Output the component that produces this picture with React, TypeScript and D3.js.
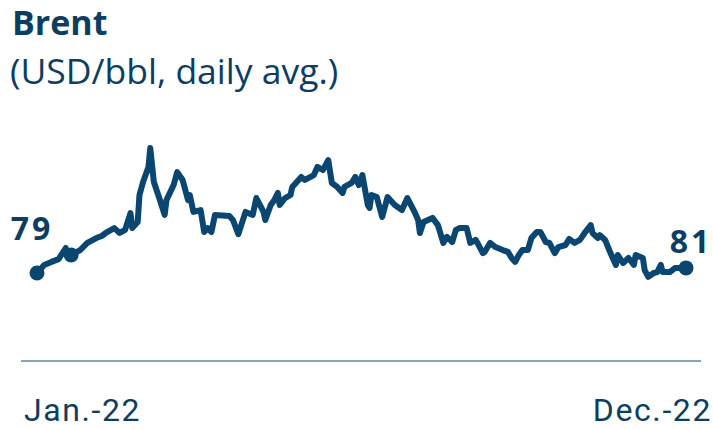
import React from "react";
import * as d3 from "d3";

// Day of year (0 = Jan 1, 2022) and Brent price (USD/bbl)
const days: number[] = [
  2, 6, 10, 14, 18, 19, 21, 26, 30, 35, 38, 41, 45, 48, 51, 54, 55, 58, 59, 61,
  64, 65, 67, 70, 73, 74, 78, 80, 83, 86, 87, 89, 93, 95, 97, 99, 101, 109, 111, 114,
  118, 122, 124, 128, 129, 132, 134, 136, 137, 140, 143, 144, 149, 151, 156, 158, 161, 162, 164, 166,
  169, 172, 173, 177, 179, 181, 183, 186, 187, 188, 191, 194, 197, 201, 205, 208, 212, 214, 215, 217,
  222, 225, 228, 230, 233, 235, 237, 241, 243, 246, 247, 250, 251, 254, 257, 261, 264, 266, 268, 270,
  272, 275, 277, 280, 282, 285, 287, 290, 292, 296, 298, 301, 304, 307, 310, 311, 314, 315, 318, 321,
  324, 325, 328, 331, 334, 335, 339, 340, 342, 345, 347, 349, 350, 354, 357, 363,
];
const prices: number[] = [
  79.0, 82.5, 83.8, 85.0, 89.8, 87.2, 86.8, 88.9, 92.0, 94.1, 95.0, 96.7, 98.4, 96.3, 97.6, 104.9, 98.4, 101.0, 112.7, 118.3,
  124.8, 133.0, 118.3, 111.4, 104.1, 110.5, 117.0, 122.6, 119.2, 110.5, 112.7, 105.4, 106.2, 96.7, 98.4, 96.7, 104.1, 103.6, 101.9, 95.8,
  105.4, 104.1, 111.4, 105.4, 101.9, 108.4, 110.5, 113.6, 108.4, 111.4, 112.7, 116.2, 120.5, 119.2, 121.3, 124.8, 123.5, 124.8, 127.8, 117.9,
  116.2, 113.6, 116.2, 117.9, 120.5, 117.0, 121.3, 108.4, 107.1, 112.7, 111.8, 103.2, 111.8, 108.4, 106.2, 111.4, 105.4, 101.9, 96.3, 101.0,
  102.8, 99.7, 92.0, 94.6, 92.4, 97.6, 98.4, 98.4, 92.0, 93.3, 92.0, 87.6, 88.1, 92.0, 90.2, 88.9, 88.1, 85.5, 83.8, 86.8,
  88.9, 88.9, 94.1, 96.7, 96.7, 92.4, 92.0, 87.6, 90.2, 91.1, 93.7, 92.0, 93.3, 96.7, 99.7, 96.3, 94.1, 95.4, 93.3, 87.6,
  82.5, 86.8, 83.3, 85.5, 82.5, 86.8, 85.5, 80.3, 77.3, 79.0, 79.4, 82.5, 79.4, 79.4, 81.2, 81.2,
];
// Indices of points marked with a dot
const markedIdx: number[] = [0, 6, days.length - 1];
const startLabel = "79";
const endLabel = "81";
const xTickLabels: string[] = ["Jan.-22", "Dec.-22"];
const title = "Brent";
const subtitle = "(USD/bbl, daily avg.)";

const NAVY = "#0a4670";
const TEXT = "#0d3d61";

export default function App() {
  const W = 713;
  const H = 430;
  const base = new Date(2022, 0, 1);
  const data = days.map((d, i) => ({ date: d3.timeDay.offset(base, d), v: prices[i] }));

  const x = d3
    .scaleTime()
    .domain([data[0].date, data[data.length - 1].date])
    .range([37, 686]);
  const y = d3.scaleLinear().domain([60, 140]).range([317, 131.8]);

  const line = d3
    .line<{ date: Date; v: number }>()
    .x((d) => x(d.date))
    .y((d) => y(d.v))
    .curve(d3.curveLinear);

  return (
    <svg
      width={W}
      height={H}
      style={{ position: "absolute", left: 0, top: 0, background: "#fff" }}
    >
      <text x={12} y={35} fontFamily="Open Sans" fontWeight={700} fontSize={34} fill={TEXT}>
        {title}
      </text>
      <text x={10} y={84} fontFamily="Open Sans" fontWeight={400} fontSize={35.5} fill={TEXT}>
        {subtitle}
      </text>

      <line x1={21} x2={701} y1={361} y2={361} stroke="#5c84a2" strokeWidth={1.5} />

      <path
        d={line(data) || ""}
        fill="none"
        stroke={NAVY}
        strokeWidth={6}
        strokeLinejoin="round"
        strokeLinecap="round"
      />
      {markedIdx.map((i) => (
        <circle key={i} cx={x(data[i].date)} cy={y(data[i].v)} r={7.5} fill={NAVY} />
      ))}

      <text
        x={x(data[0].date) - 5}
        y={y(data[0].v) - 33}
        textAnchor="middle"
        fontFamily="Open Sans"
        fontWeight={700}
        fontSize={32}
        letterSpacing={3}
        fill={TEXT}
      >
        {startLabel}
      </text>
      <text
        x={x(data[data.length - 1].date) + 5}
        y={y(data[data.length - 1].v) - 15}
        textAnchor="middle"
        fontFamily="Open Sans"
        fontWeight={700}
        fontSize={32}
        letterSpacing={3}
        fill={TEXT}
      >
        {endLabel}
      </text>

      <text x={24} y={421} fontFamily="Roboto" fontSize={32} letterSpacing={1.6} fill={TEXT}>
        {xTickLabels[0]}
      </text>
      <text x={712} y={421} textAnchor="end" fontFamily="Roboto" fontSize={32} letterSpacing={1.6} fill={TEXT}>
        {xTickLabels[1]}
      </text>
    </svg>
  );
}
